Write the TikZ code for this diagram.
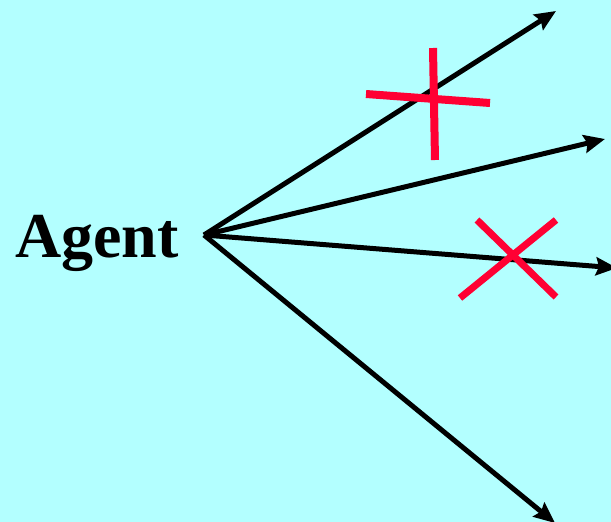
\documentclass[tikz,border=0pt]{standalone}
\usepackage{fontspec}
\setmainfont{Liberation Serif}
\usetikzlibrary{arrows.meta}
\definecolor{bgcyan}{HTML}{B3FFFF}
\definecolor{xred}{HTML}{FF0033}
\begin{document}
\begin{tikzpicture}[x=1pt,y=-1pt,
  ray/.style={line width=5pt,-{Stealth[length=21pt,width=18pt,inset=3pt]}},
  mark line/.style={xred,line width=8pt}]
\fill[bgcyan] (0,0) rectangle (611,522);
\useasboundingbox (0,0) rectangle (611,522);
\node[anchor=base west,inner sep=0pt,font=\fontsize{64}{70}\selectfont\bfseries] (agent) at (15,257) {Agent};
\coordinate (o) at (204,235);
\coordinate (e1) at (556,11);
\coordinate (e2) at (605,139);
\coordinate (e3) at (617,268);
\coordinate (e4) at (555,523);
\draw[ray] (o) -- (e1);
\draw[ray] (o) -- (e2);
\draw[ray] (o) -- (e3);
\draw[ray] (o) -- (e4);
% plus-shaped mark
\coordinate (p1) at (433,48);
\coordinate (p2) at (435,160);
\coordinate (p3) at (366,94);
\coordinate (p4) at (490,103);
\draw[mark line] (p1) -- (p2);
\draw[mark line] (p3) -- (p4);
% x-shaped mark
\coordinate (q1) at (477,220);
\coordinate (q2) at (556,297);
\coordinate (q3) at (556,220);
\coordinate (q4) at (460,298);
\draw[mark line,line width=7pt] (q1) -- (q2);
\draw[mark line,line width=7pt] (q3) -- (q4);
\end{tikzpicture}
\end{document}
